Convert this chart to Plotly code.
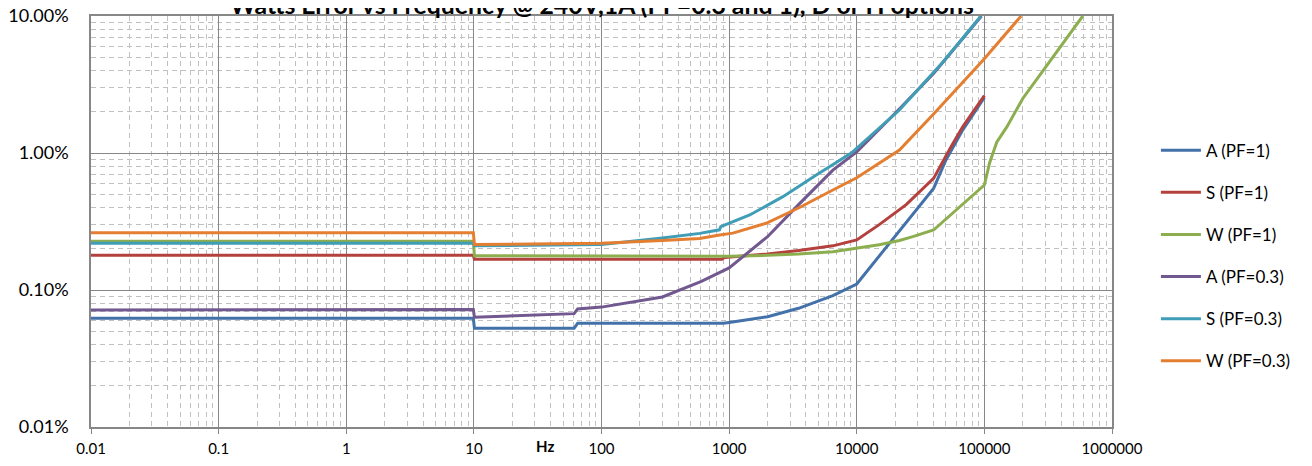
import plotly.graph_objects as go

# ---------------- data (frequency in Hz, error in %) ----------------
a_pf1_f = [0.01, 9.9, 10.1, 61, 65, 900, 1000, 2000, 3500, 6500, 10000, 40000, 50000, 67600, 100000]
a_pf1_v = [0.0621, 0.0621, 0.0525, 0.0525, 0.0571, 0.0571, 0.058, 0.0638, 0.0735, 0.091, 0.1106, 0.552, 0.89, 1.47, 2.55]

s_pf1_f = [0.01, 9.9, 10.1, 880, 920, 2000, 3500, 6500, 10000, 15000, 24400, 40000, 54800, 67800, 100000]
s_pf1_v = [0.179, 0.179, 0.168, 0.168, 0.173, 0.183, 0.194, 0.21, 0.232, 0.30, 0.42, 0.653, 1.11, 1.56, 2.62]

w_pf1_f = [0.01, 9.9, 10.1, 1000, 2000, 3500, 6500, 10000, 15000, 21600, 27500, 40000, 100000,
           110000, 125000, 150000, 200000, 300000, 590000]
w_pf1_v = [0.227, 0.227, 0.178, 0.176, 0.179, 0.183, 0.19, 0.201, 0.214, 0.23, 0.245, 0.274, 0.584,
           0.85, 1.2, 1.55, 2.5, 4.2, 10.0]

a_pf03_f = [0.01, 1.5, 2, 9.9, 10.1, 61, 65, 100, 300, 600, 1000, 2000, 3500, 6500, 10000, 20000, 40000, 95000]
a_pf03_v = [0.0715, 0.0715, 0.072, 0.072, 0.0632, 0.0672, 0.0727, 0.075, 0.089, 0.115, 0.145, 0.245, 0.42,
            0.75, 1.02, 1.95, 3.8, 10.0]

s_pf03_f = [0.01, 9.9, 10.1, 100, 300, 588, 840, 860, 1450, 2640, 4820, 9060, 21600, 39500, 47200, 94000]
s_pf03_v = [0.219, 0.219, 0.21, 0.215, 0.24, 0.259, 0.275, 0.29, 0.353, 0.48, 0.69, 1.0, 2.06, 3.8, 4.6, 10.0]

w_pf03_f = [0.01, 9.9, 10.1, 100, 300, 588, 843, 1070, 1950, 3560, 6500, 10000, 21600, 39500, 98000, 194000]
w_pf03_v = [0.262, 0.262, 0.215, 0.219, 0.23, 0.238, 0.252, 0.26, 0.307, 0.40, 0.537, 0.66, 1.05, 1.9, 4.77, 10.0]

series_names = ["A (PF=1)", "S (PF=1)", "W (PF=1)", "A (PF=0.3)", "S (PF=0.3)", "W (PF=0.3)"]
series_colors = ["#4372AA", "#B4413E", "#8CAE4F", "#71588F", "#3F9DB5", "#E47F32"]

x_tick_vals = [0.01, 0.1, 1, 10, 100, 1000, 10000, 100000, 1000000]
x_tick_text = ["0.01", "0.1", "1", "10", "100", "1000", "10000", "100000", "1000000"]
y_tick_vals = [0.01, 0.1, 1, 10]
y_tick_text = ["0.01%", "0.10%", "1.00%", "10.00%"]

title_text = "Watts Error vs Frequency @ 240V,1A (PF=0.3 and 1), D or H options"
x_title = "Hz"

# ---------------- figure ----------------
xs = [a_pf1_f, s_pf1_f, w_pf1_f, a_pf03_f, s_pf03_f, w_pf03_f]
ys = [a_pf1_v, s_pf1_v, w_pf1_v, a_pf03_v, s_pf03_v, w_pf03_v]

fig = go.Figure()
for i, (fx, fy) in enumerate(zip(xs, ys)):
    fig.add_trace(go.Scatter(
        x=fx, y=fy, mode="lines", name=series_names[i], legendgroup=f"g{i}",
        line=dict(color=series_colors[i], width=3),
    ))

minor_x = [k * 10.0 ** n for n in range(-2, 6) for k in range(2, 10)]
minor_y = [k * 10.0 ** n for n in range(-2, 1) for k in range(2, 10)]

FONT = "Lato, 'Open Sans', sans-serif"
MAJOR = "#878787"
MINOR = "#C0C0C0"

# the page body adds an 8px offset, so the figure is sized/margined to compensate
fig.update_layout(
    width=1296, height=450,
    margin=dict(l=83, r=192, t=8, b=31, autoexpand=False),
    paper_bgcolor="white", plot_bgcolor="white",
    font=dict(family=FONT, size=15, color="#000000"),
    showlegend=True,
    legend=dict(
        x=1.043, xanchor="left", y=0.716, yanchor="top",
        traceorder="grouped", tracegroupgap=17,
        font=dict(family=FONT, size=17, color="#000000"),
        bgcolor="rgba(0,0,0,0)", itemwidth=40,
    ),
    xaxis=dict(
        type="log", range=[-2, 6],
        tickmode="array", tickvals=x_tick_vals, ticktext=x_tick_text,
        tickfont=dict(family=FONT, size=15),
        showgrid=True, gridcolor=MAJOR, gridwidth=1,
        showline=True, linecolor=MAJOR, linewidth=1.5, mirror=True,
        ticks="outside", ticklen=5, tickcolor=MAJOR,
        zeroline=False, ticklabelstandoff=2, ticklabeloverflow="allow",
        minor=dict(tickmode="array", tickvals=minor_x, showgrid=True,
                   gridcolor=MINOR, griddash="5px,4px", gridwidth=1, ticks=""),
    ),
    yaxis=dict(
        type="log", range=[-2, 1],
        tickmode="array", tickvals=y_tick_vals, ticktext=y_tick_text,
        tickfont=dict(family=FONT, size=18),
        showgrid=True, gridcolor=MAJOR, gridwidth=1,
        showline=True, linecolor=MAJOR, linewidth=1.5, mirror=True,
        ticks="", zeroline=False, ticklabelstandoff=17, ticklabeloverflow="allow",
        minor=dict(tickmode="array", tickvals=minor_y, showgrid=True,
                   gridcolor=MINOR, griddash="5px,4px", gridwidth=1, ticks=""),
    ),
    annotations=[
        dict(text=f"<b>{title_text}</b>", xref="paper", yref="paper", x=0.5, y=1,
             xanchor="center", yanchor="middle", yshift=12, showarrow=False,
             font=dict(family=FONT, size=24.8, color="#000000")),
        dict(text=f"<b>{x_title}</b>", xref="x", yref="paper", x=1.5, y=0,
             xanchor="center", yanchor="top", yshift=-8, xshift=7, showarrow=False,
             font=dict(family=FONT, size=15, color="#000000")),
    ],
)

fig.write_html("out.html")
